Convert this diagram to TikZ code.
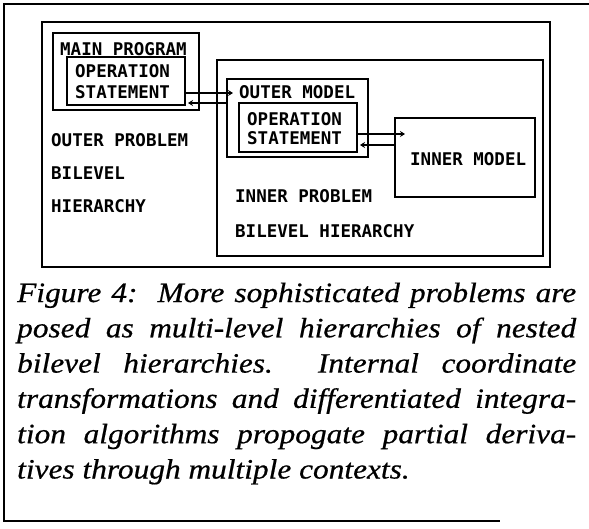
\documentclass[tikz,border=0pt]{standalone}
\usepackage{fontspec}
\setmainfont{Liberation Serif}
\newfontfamily\plotfont{DejaVu Sans Mono}
\newfontfamily\capfont[FakeStretch=1.12,FakeBold=0.6]{Liberation Serif}
\usetikzlibrary{arrows.meta,calc}

\tikzset{
  box/.style={draw, line width=2.8pt, inner sep=0pt, outer sep=0pt, anchor=north west},
  thinbox/.style={box, line width=2pt},
  lbl/.style={font=\plotfont\bfseries\fontsize{17.5}{21}\selectfont, inner sep=0pt, anchor=base west},
  link/.style={line width=2.2pt, -{Stealth[length=5pt,width=6pt]}},
  caption/.style={anchor=base west, text width=559pt, align=justify, inner sep=0pt,
    font=\capfont\itshape\fontsize{28}{35.3}\selectfont},
}

\begin{document}
\begin{tikzpicture}[x=1pt,y=-1pt]
\useasboundingbox (0,0) rectangle (589,528);

% page frame, open on the right
\draw[line width=2.8pt] (589,4) -- (4,4) -- (4,521) -- (500,521);

% nested boxes
\node[box, minimum width=508pt, minimum height=245pt] (outer) at (42,22) {};
\node[box, minimum width=146pt, minimum height=77pt] (main) at (53,33) {};
\node[box, minimum width=118pt, minimum height=48pt] (op1) at (67,57) {};
\node[thinbox, minimum width=326pt, minimum height=196pt] (inner) at (217,60) {};
\node[box, minimum width=141pt, minimum height=78pt] (om) at (227,79) {};
\node[box, minimum width=118pt, minimum height=49pt] (op2) at (239,103) {};
\node[thinbox, minimum width=140pt, minimum height=79pt] (im) at (395,118) {};

% labels
\node[lbl] (tmain) at (60,55) {MAIN PROGRAM};
\node[lbl] (top1a) at (75,77) {OPERATION};
\node[lbl] (top1b) at (75,98) {STATEMENT};
\node[lbl] (touter) at (51,146) {OUTER PROBLEM};
\node[lbl] (tbil1) at (51,179) {BILEVEL};
\node[lbl] (thier1) at (51,212) {HIERARCHY};
\node[lbl] (tom) at (239,98) {OUTER MODEL};
\node[lbl] (top2a) at (247,125) {OPERATION};
\node[lbl] (top2b) at (247,144) {STATEMENT};
\node[lbl] (tim) at (410,165) {INNER MODEL};
\node[lbl] (tinner) at (235,202) {INNER PROBLEM};
\node[lbl] (tbil2) at (235,237) {BILEVEL HIERARCHY};

% heights of the paired links
\coordinate (y1) at (0,93);
\coordinate (y2) at (0,103);
\coordinate (y3) at (0,134);
\coordinate (y4) at (0,145);

\draw[link] (op1.east |- y1) -- ($(om.west |- y1)+(6,0)$);
\draw[link] (om.west |- y2) -- ($(op1.east |- y2)+(3,0)$);
\draw[link] (op2.east |- y3) -- ($(im.west |- y3)+(10,0)$);
\draw[link] (im.west |- y4) -- ($(op2.east |- y4)+(3,0)$);

% caption
\node[caption] (cap) at (17,302) {\hyphenpenalty=10000 \exhyphenpenalty=10000
Figure 4:\ \ More sophisticated problems are\linebreak
posed as multi-level hierarchies of nested\linebreak
bilevel hierarchies.\ \ Internal coordinate\linebreak
transformations and differentiated integra-\linebreak
tion algorithms propogate partial deriva-\linebreak
tives through multiple contexts.};
\end{tikzpicture}
\end{document}
